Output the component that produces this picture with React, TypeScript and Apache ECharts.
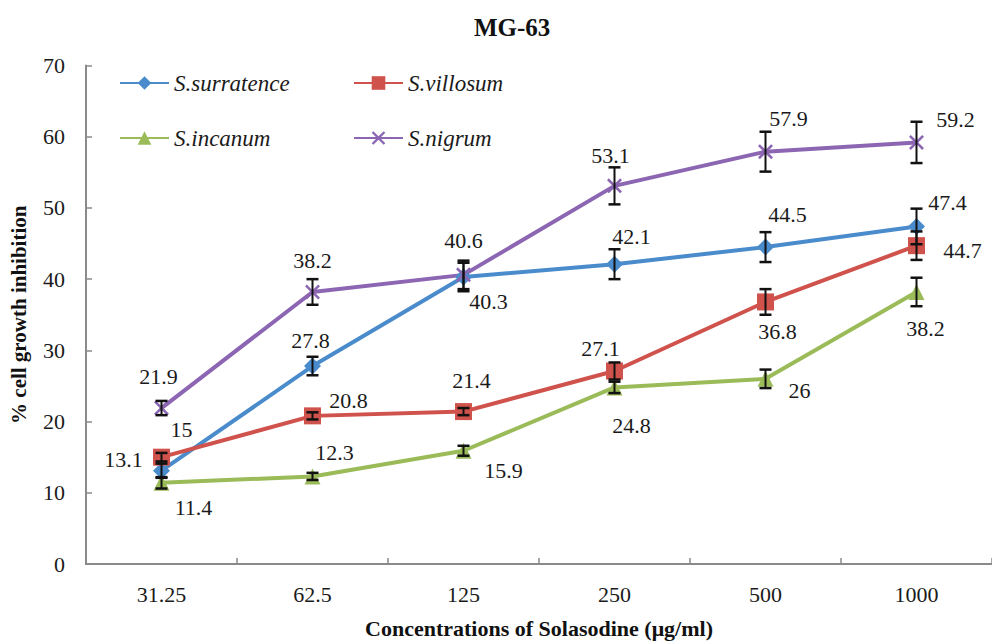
import React, { useEffect, useRef } from "react";
import * as echarts from "echarts";

const categories = ["31.25", "62.5", "125", "250", "500", "1000"];
const surratence = [13.1, 27.8, 40.3, 42.1, 44.5, 47.4];
const villosum = [15, 20.8, 21.4, 27.1, 36.8, 44.7];
const incanum = [11.4, 12.3, 15.9, 24.8, 26, 38.2];
const nigrum = [21.9, 38.2, 40.6, 53.1, 57.9, 59.2];

const surratenceErr = [1.0, 1.3, 2.0, 2.1, 2.1, 2.5];
const villosumErr = [0.6, 0.5, 0.5, 1.2, 1.8, 2.0];
const incanumErr = [0.8, 0.5, 0.7, 0.8, 1.3, 2.0];
const nigrumErr = [1.0, 1.8, 2.0, 2.6, 2.8, 2.9];

const seriesNames = ["S.surratence", "S.villosum", "S.incanum", "S.nigrum"];

// label offsets (pixels) relative to each marker
const surratenceOff = [[-38, -11], [-2, -26], [25, 24], [17, -28], [22, -33], [31, -24]];
const villosumOff = [[20, -28], [36, -15], [8, -31], [-14, -23], [12, 30], [46, 5]];
const incanumOff = [[32, 25], [22, -24], [40, 20], [17, 38], [34, 12], [9, 37]];
const nigrumOff = [[-3, -32], [0, -31], [0, -34], [-4, -30], [23, -33], [39, -23]];

const FONT = "Liberation Serif";
const COLORS = ["#4A8BCB", "#D0524C", "#9BBB59", "#8C66B2"];
const X_SYMBOL =
  "path://M0,1.2L1.2,0L5,3.8L8.8,0L10,1.2L6.2,5L10,8.8L8.8,10L5,6.2L1.2,10L0,8.8L3.8,5Z";

function lineSeries(name: string, vals: number[], offs: number[][], color: string, symbol: string, size: number) {
  return {
    name,
    type: "line",
    data: vals.map((v, i) => ({
      value: v,
      label: { offset: offs[i] },
    })),
    symbol,
    symbolSize: size,
    showAllSymbol: true,
    lineStyle: { color, width: 4 },
    itemStyle: { color },
    z: 2,
    label: {
      show: true,
      position: "inside",
      color: "#1a1a1a",
      fontFamily: FONT,
      fontSize: 22,
    },
  };
}

function errSeries(vals: number[], errs: number[]) {
  return {
    type: "custom",
    name: "err",
    z: 4,
    silent: true,
    encode: { x: 0, y: [1, 2] },
    data: vals.map((v, i) => [i, v - errs[i], v + errs[i]]),
    renderItem: (params: any, api: any) => {
      const x = api.value(0);
      const top = api.coord([x, api.value(2)]);
      const bot = api.coord([x, api.value(1)]);
      const w = 6;
      const cap = { stroke: "#111", lineWidth: 2.5 };
      return {
        type: "group",
        children: [
          { type: "line", shape: { x1: top[0], y1: top[1], x2: bot[0], y2: bot[1] }, style: { stroke: "#111", lineWidth: 2 } },
          { type: "line", shape: { x1: top[0] - w, y1: top[1], x2: top[0] + w, y2: top[1] }, style: cap },
          { type: "line", shape: { x1: bot[0] - w, y1: bot[1], x2: bot[0] + w, y2: bot[1] }, style: cap },
        ],
      };
    },
  };
}

export default function App() {
  const ref = useRef<HTMLDivElement>(null);
  useEffect(() => {
    if (!ref.current) return;
    const chart = echarts.init(ref.current, undefined, { renderer: "svg" });
    const legendText = { fontFamily: FONT, fontSize: 23, fontStyle: "italic", color: "#1a1a1a", lineHeight: 24 };
    const legendBase = {
      orient: "vertical",
      top: 71,
      padding: 0,
      itemWidth: 49,
      itemHeight: 17,
      itemGap: 31,
      textStyle: legendText,
      selectedMode: false,
    };
    chart.setOption({
      animation: false,
      backgroundColor: "#ffffff",
      title: {
        text: "MG-63",
        left: 469,
        top: 10,
        textStyle: { fontFamily: FONT, fontSize: 25, fontWeight: "bold", color: "#111" },
      },
      legend: [
        { ...legendBase, data: [seriesNames[0], seriesNames[2]], left: 119 },
        { ...legendBase, data: [seriesNames[1], seriesNames[3]], left: 353 },
      ],
      grid: { left: 84, right: 0, top: 65.5, bottom: 77, containLabel: false },
      xAxis: {
        type: "category",
        data: categories,
        boundaryGap: true,
        name: "Concentrations of Solasodine (μg/ml)",
        nameLocation: "middle",
        nameGap: 53,
        nameTextStyle: { fontFamily: FONT, fontSize: 22, fontWeight: "bold", color: "#111" },
        axisLine: { lineStyle: { color: "#8a8a8a", width: 2 } },
        axisTick: { show: true, inside: true, length: 6, interval: 0, lineStyle: { color: "#8a8a8a", width: 1.5 } },
        axisLabel: { fontFamily: FONT, fontSize: 22, color: "#1a1a1a", margin: 19, interval: 0 },
        splitLine: { show: false },
      },
      yAxis: {
        type: "value",
        min: 0,
        max: 70,
        interval: 10,
        name: "% cell growth inhibition",
        nameLocation: "middle",
        nameGap: 57,
        nameTextStyle: { fontFamily: FONT, fontSize: 21, fontWeight: "bold", color: "#111" },
        axisLine: { show: true, lineStyle: { color: "#8a8a8a", width: 2 } },
        axisTick: { show: true, inside: true, length: 6, lineStyle: { color: "#8a8a8a", width: 1.5 } },
        axisLabel: { fontFamily: FONT, fontSize: 22, color: "#1a1a1a", margin: 21 },
        splitLine: { show: false },
      },
      series: [
        lineSeries(seriesNames[0], surratence, surratenceOff, COLORS[0], "diamond", 17),
        lineSeries(seriesNames[1], villosum, villosumOff, COLORS[1], "rect", 17),
        lineSeries(seriesNames[2], incanum, incanumOff, COLORS[2], "triangle", 16),
        lineSeries(seriesNames[3], nigrum, nigrumOff, COLORS[3], X_SYMBOL, 15),
        errSeries(surratence, surratenceErr),
        errSeries(villosum, villosumErr),
        errSeries(incanum, incanumErr),
        errSeries(nigrum, nigrumErr),
      ],
    });
    return () => chart.dispose();
  }, []);
  return (
    <div
      ref={ref}
      style={{ position: "fixed", left: 0, top: 0, width: 992, height: 644, background: "#fff" }}
    />
  );
}
